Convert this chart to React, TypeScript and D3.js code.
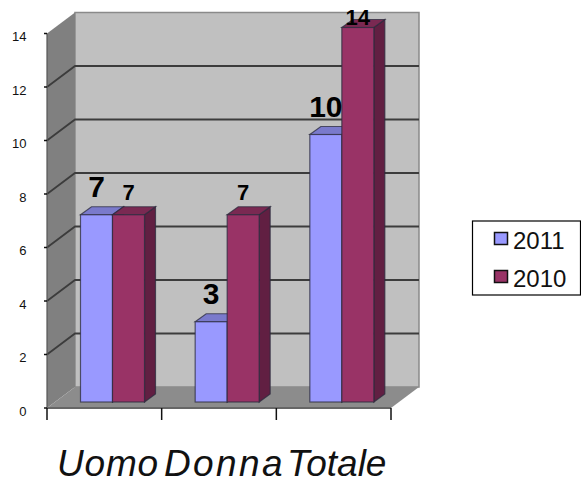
import * as d3 from "d3";

const categories = ["Uomo", "Donna", "Totale"];
const seriesNames = ["2011", "2010"];
const values2011 = [7, 3, 10];
const values2010 = [7, 7, 14];
const yTicks = [0, 2, 4, 6, 8, 10, 12, 14];

const colors = ["#9999ff", "#993366"];
const topColors = ["#7a7acc", "#7a2952"];
const sideColors = ["#4d4d80", "#611f42"];
const labelSizes = [30, 22];
const labelGaps = [18, 15];

// Chart frame: the front edge of the floor and the oblique depth of the box.
const FRONT_LEFT = 47;
const FRONT_RIGHT = 391;
const DEPTH_X = 28;
const DEPTH_Y = -21;
// Bars stand part-way into the box.
const BAR_DX = 5.5;
const BAR_DY = -6;
const BAR_DEPTH_X = 11;
const BAR_DEPTH_Y = -8;
// Value labels never rise above this baseline.
const LABEL_MIN_Y = 25;

const yFront = d3.scaleLinear().domain([0, 14]).range([408, 33.5]);
const xBand = d3.scaleBand<string>().domain(categories).range([FRONT_LEFT, FRONT_RIGHT]);
const xInner = d3.scaleBand<string>().domain(seriesNames).range([28, 92]);

const line = d3.line<[number, number]>();
const poly = (pts: [number, number][]) => line(pts) + "Z";

function Bar({ x, w, v, s }: { x: number; w: number; v: number; s: number }) {
  const y0 = yFront(0) + BAR_DY;
  const y1 = yFront(v) + BAR_DY;
  const stroke = "#2b2b3d";
  return (
    <g stroke={stroke} strokeWidth={1.2} strokeOpacity={0.75}>
      <path
        d={poly([[x + w, y1], [x + w + BAR_DEPTH_X, y1 + BAR_DEPTH_Y], [x + w + BAR_DEPTH_X, y0 + BAR_DEPTH_Y], [x + w, y0]])}
        fill={sideColors[s]}
      />
      <path
        d={poly([[x, y1], [x + BAR_DEPTH_X, y1 + BAR_DEPTH_Y], [x + w + BAR_DEPTH_X, y1 + BAR_DEPTH_Y], [x + w, y1]])}
        fill={topColors[s]}
      />
      <rect x={x} y={y1} width={w} height={y0 - y1} fill={colors[s]} />
    </g>
  );
}

export default function App() {
  const top = yFront(14);
  const bottom = yFront(0);
  const series = [values2011, values2010];
  const legendY = [239.5, 277.5];
  return (
    <svg
      width={581}
      height={484}
      style={{ position: "absolute", left: 0, top: 0, fontFamily: "'Liberation Sans', Arial, sans-serif" }}
    >
      <rect width={581} height={484} fill="#fff" />

      {/* back wall, side wall and floor */}
      <rect
        x={FRONT_LEFT + DEPTH_X}
        y={top + DEPTH_Y}
        width={FRONT_RIGHT - FRONT_LEFT}
        height={bottom - top}
        fill="#c0c0c0"
        stroke="#8a8a8a"
        strokeWidth={1.5}
      />
      <path
        d={poly([[FRONT_LEFT, top], [FRONT_LEFT + DEPTH_X, top + DEPTH_Y], [FRONT_LEFT + DEPTH_X, bottom + DEPTH_Y], [FRONT_LEFT, bottom]])}
        fill="#808080"
      />
      <path
        d={poly([[FRONT_LEFT, bottom], [FRONT_LEFT + DEPTH_X, bottom + DEPTH_Y], [FRONT_RIGHT + DEPTH_X, bottom + DEPTH_Y], [FRONT_RIGHT, bottom]])}
        fill="#8c8c8c"
      />

      {/* gridlines */}
      {yTicks.filter((t) => t > 0 && t < 14).map((t) => (
        <path
          key={t}
          d={line([[FRONT_LEFT, yFront(t)], [FRONT_LEFT + DEPTH_X, yFront(t) + DEPTH_Y], [FRONT_RIGHT + DEPTH_X, yFront(t) + DEPTH_Y]]) ?? ""}
          fill="none"
          stroke="#3c3c3c"
          strokeWidth={1.8}
        />
      ))}

      {/* y axis */}
      <line x1={FRONT_LEFT} x2={FRONT_LEFT} y1={top} y2={bottom} stroke="#555" strokeWidth={1.2} />
      <line x1={FRONT_LEFT} x2={FRONT_RIGHT} y1={bottom} y2={bottom} stroke="#666" strokeWidth={2} />
      {yTicks.map((t) => (
        <g key={t}>
          <line x1={44} x2={FRONT_LEFT} y1={yFront(t)} y2={yFront(t)} stroke="#111" strokeWidth={1.5} />
          <text x={26.5} y={yFront(t) + 7.5} textAnchor="end" fontSize={13} fill="#111">
            {t}
          </text>
        </g>
      ))}

      {/* x axis ticks */}
      {[...categories.map((c) => xBand(c) ?? 0), FRONT_RIGHT].map((x) => (
        <line key={x} x1={x} x2={x} y1={bottom} y2={420} stroke="#111" strokeWidth={1.5} />
      ))}

      {/* bars */}
      {categories.map((c, i) =>
        seriesNames.map((name, s) => (
          <Bar
            key={c + name}
            x={(xBand(c) ?? 0) + (xInner(name) ?? 0) + BAR_DX}
            w={xInner.bandwidth()}
            v={series[s][i]}
            s={s}
          />
        ))
      )}

      {/* value labels */}
      {categories.map((c, i) =>
        seriesNames.map((name, s) => (
          <text
            key={c + name}
            x={(xBand(c) ?? 0) + (xInner(name) ?? 0) + BAR_DX + xInner.bandwidth() / 2}
            y={Math.max(LABEL_MIN_Y, yFront(series[s][i]) + BAR_DY - labelGaps[s])}
            textAnchor="middle"
            fontWeight="bold"
            fontSize={labelSizes[s]}
            fill="#000"
          >
            {series[s][i]}
          </text>
        ))
      )}

      {/* category labels */}
      <text y={476} fontSize={37} fontStyle="italic" fill="#111">
        <tspan x={57} letterSpacing={0.8}>{categories[0]}</tspan>
        <tspan x={164} letterSpacing={2.4}>{categories[1]}</tspan>
        <tspan x={287}>{categories[2]}</tspan>
      </text>

      {/* legend */}
      <rect x={472.5} y={221} width={108} height={74} fill="#fff" stroke="#000" strokeWidth={1.2} />
      {seriesNames.map((name, s) => (
        <g key={name}>
          <rect x={494.5} y={legendY[s] - 7} width={13} height={12} fill={colors[s]} stroke="#111" strokeWidth={1.5} />
          <text x={513} y={legendY[s] + 9} fontSize={24} fill="#111">
            {name}
          </text>
        </g>
      ))}
    </svg>
  );
}
